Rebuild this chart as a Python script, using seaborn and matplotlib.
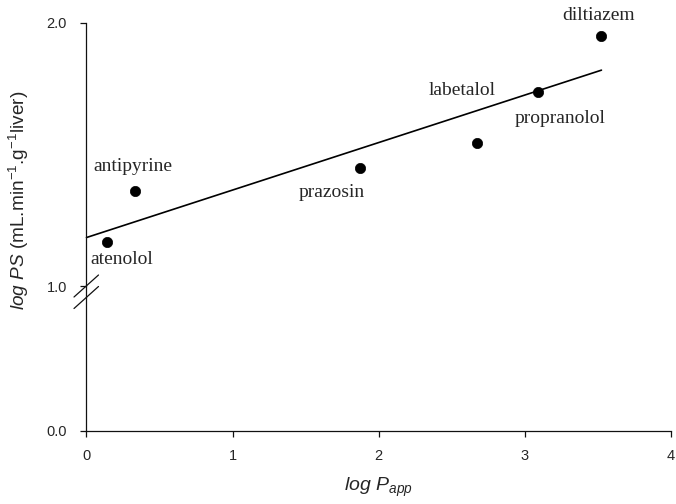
import numpy as np
import pandas as pd
import seaborn as sns
import matplotlib
matplotlib.use("Agg")
import matplotlib.pyplot as plt
from matplotlib.lines import Line2D

# ---- data ----
compounds = ["atenolol", "antipyrine", "prazosin", "labetalol", "propranolol", "diltiazem"]
log_papp = [0.137, 0.33, 1.874, 2.677, 3.092, 3.527]
log_ps = [1.166, 1.361, 1.448, 1.542, 1.736, 1.949]
label_x = [0.239, 0.317, 1.677, 2.575, 3.241, 3.505]
label_y = [1.099, 1.452, 1.357, 1.741, 1.638, 2.029]
label_text = ["atenolol", "antipyrine", "prazosin", "labetalol", "propranolol", "diltiazem"]
x_ticks = [0, 1, 2, 3, 4]
upper_ticks = [1.0, 2.0]
lower_ticks = [0.0]

df = pd.DataFrame({"compound": compounds, "log_papp": log_papp, "log_ps": log_ps})

sns.set_theme(style="ticks")
plt.rcParams["font.family"] = ["Liberation Sans", "DejaVu Sans"]
plt.rcParams["mathtext.fontset"] = "custom"
plt.rcParams["mathtext.rm"] = "Liberation Sans"
plt.rcParams["mathtext.it"] = "Liberation Sans:italic"

W, H = 676, 504
fig = plt.figure(figsize=(W / 100, H / 100), dpi=100)

def fx(px):
    return px / W

def fy(py):
    return 1 - py / H

left = fx(86.5)
right = fx(670.5)
ax_top = fig.add_axes([left, fy(286), right - left, fy(22.7) - fy(286)])
ax_bot = fig.add_axes([left, fy(431), right - left, fy(297) - fy(431)])

spine_color = "#111111"
for ax in (ax_top, ax_bot):
    ax.set_facecolor("white")
    for s in ("top", "right"):
        ax.spines[s].set_visible(False)
    for s in ("left", "bottom"):
        ax.spines[s].set_color(spine_color)
        ax.spines[s].set_linewidth(0.9)
    ax.set_xlim(0, 4)
    ax.tick_params(direction="out", length=4, width=0.9, color=spine_color,
                   labelsize=10.5)
    ax.tick_params(axis="y", pad=10)
    ax.tick_params(axis="x", pad=9)

ax_top.set_ylim(1.0, 2.0)
ax_top.set_yticks(upper_ticks)
ax_top.set_yticklabels([f"{t:.1f}" for t in upper_ticks])
ax_top.spines["bottom"].set_visible(False)
ax_top.tick_params(axis="x", bottom=False, labelbottom=False)

ax_bot.set_ylim(0.0, 1.0)
ax_bot.set_yticks(lower_ticks)
ax_bot.set_yticklabels([f"{t:.1f}" for t in lower_ticks])
ax_bot.set_xticks(x_ticks)
ax_bot.set_xticklabels([str(t) for t in x_ticks])

# scatter points
sns.scatterplot(data=df, x="log_papp", y="log_ps", ax=ax_top, color="black",
                s=55, edgecolor="black", linewidth=0.5, clip_on=False, zorder=3,
                legend=False)

# regression line from x=0 to max x
slope, intercept = np.polyfit(log_papp, log_ps, 1)
xs = np.array([0.0, max(log_papp)])
sns.lineplot(x=xs, y=intercept + slope * xs, ax=ax_top, color="black",
             linewidth=1.2, clip_on=False, zorder=2)

ax_top.set_xlabel("")
ax_top.set_ylabel("")
ax_bot.set_ylabel("")

# compound labels
for tx, ty, t in zip(label_x, label_y, label_text):
    ax_top.text(tx, ty, t, ha="center", va="center", fontsize=14,
                family=["Liberation Serif", "DejaVu Serif"], clip_on=False)

ax_bot.set_xlabel(r"$\it{log\ P}_{\it{app}}$", fontsize=14, labelpad=9)

fig.text(fx(19), fy(200), r"$\it{log\ PS}$ (mL.min$^{-1}$.g$^{-1}$liver)",
         rotation=90, ha="center", va="center", fontsize=13.7)

# connect spine through the break and draw break marks
fig.add_artist(Line2D([left, left], [fy(297), fy(286)], color=spine_color, lw=0.9))
for yc in (286, 297.5):
    fig.add_artist(Line2D([fx(74), fx(98.5)], [fy(yc + 11), fy(yc - 11)],
                          color=spine_color, lw=0.9))

fig.savefig("out.png", dpi=100, facecolor="white")
